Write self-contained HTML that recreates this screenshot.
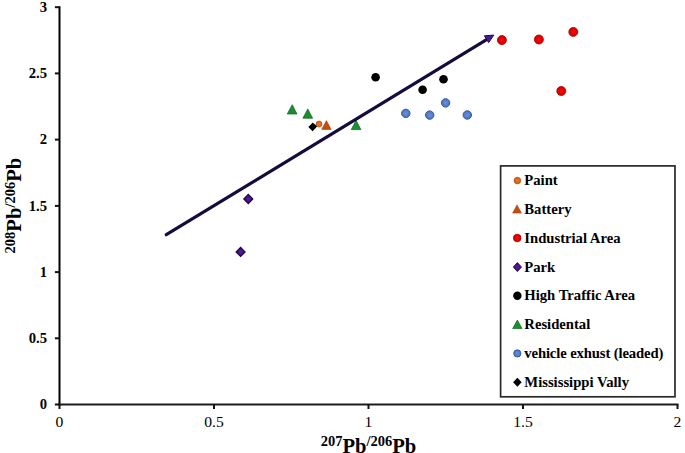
<!DOCTYPE html>
<html><head><meta charset="utf-8">
<style>
html,body{margin:0;padding:0;background:#fff;}
body{width:685px;height:453px;overflow:hidden;position:relative;}
svg{position:absolute;left:0;top:0;}
text{font-family:"Liberation Serif",serif;}
</style></head>
<body>
<svg width="685" height="453" viewBox="0 0 685 453">
<!-- axes -->
<g stroke="#111" stroke-width="2" fill="none">
<line x1="59.5" y1="6.2" x2="59.5" y2="405.5" stroke="#000"/>
<line x1="58.5" y1="404.5" x2="678.5" y2="404.5" stroke="#1c1c1c"/>
<line x1="54.9" y1="7.2" x2="59.5" y2="7.2"/>
<line x1="54.9" y1="73.4" x2="59.5" y2="73.4"/>
<line x1="54.9" y1="139.6" x2="59.5" y2="139.6"/>
<line x1="54.9" y1="205.9" x2="59.5" y2="205.9"/>
<line x1="54.9" y1="272.1" x2="59.5" y2="272.1"/>
<line x1="54.9" y1="338.3" x2="59.5" y2="338.3"/>
<line x1="54.9" y1="404.5" x2="59.5" y2="404.5"/>
<line x1="59.5" y1="404.5" x2="59.5" y2="409"/>
<line x1="214" y1="404.5" x2="214" y2="409"/>
<line x1="368.5" y1="404.5" x2="368.5" y2="409"/>
<line x1="523" y1="404.5" x2="523" y2="409"/>
<line x1="677.5" y1="404.5" x2="677.5" y2="409"/>
</g>
<!-- y labels -->
<g font-weight="bold" font-size="14.67" text-anchor="end" fill="#000">
<text x="47" y="12">3</text>
<text x="47" y="78.2">2.5</text>
<text x="47" y="144.4">2</text>
<text x="47" y="210.7">1.5</text>
<text x="47" y="276.9">1</text>
<text x="47" y="343.1">0.5</text>
<text x="47" y="409.3">0</text>
</g>
<!-- x labels -->
<g font-size="15.6" text-anchor="middle" fill="#000">
<text x="59.5" y="426.5">0</text>
<text x="214" y="426.5">0.5</text>
<text x="368.5" y="426.5">1</text>
<text x="523" y="426.5">1.5</text>
<text x="677.5" y="426.5">2</text>
</g>
<!-- axis titles -->
<text x="368.5" y="452.5" text-anchor="middle" font-weight="bold" font-size="20.6" fill="#000"><tspan font-size="14.5" dy="-6.2">207</tspan><tspan dy="6.2">Pb</tspan><tspan font-size="14.5" dy="-6.2">/206</tspan><tspan dy="6.2">Pb</tspan></text>
<text transform="translate(21.1,205.6) rotate(-90)" text-anchor="middle" font-weight="bold" font-size="20.6" fill="#000"><tspan font-size="14.5" dy="-6.2">208</tspan><tspan dy="6.2">Pb</tspan><tspan font-size="14.5" dy="-6.2">/206</tspan><tspan dy="6.2">Pb</tspan></text>

<!-- data -->
<defs>
<radialGradient id="gRed"><stop offset="0" stop-color="#ff0a0a"/><stop offset="0.6" stop-color="#e80000"/><stop offset="1" stop-color="#c00000"/></radialGradient>
<radialGradient id="gOr"><stop offset="0" stop-color="#e8782a"/><stop offset="1" stop-color="#d0601a"/></radialGradient>
<radialGradient id="gBl"><stop offset="0" stop-color="#6a90d8"/><stop offset="1" stop-color="#4a72c0"/></radialGradient>
<radialGradient id="gPu"><stop offset="0" stop-color="#5a1a9e"/><stop offset="1" stop-color="#3c0c78"/></radialGradient>
</defs>
<!-- Paint -->
<circle cx="319" cy="124.1" r="3" fill="url(#gOr)" stroke="#c0520f" stroke-width="0.7"/>
<!-- Battery -->
<polygon points="326.4,120.6 331.2,129.4 321.7,129.4" fill="#c24f0e" stroke="#a8420c" stroke-width="0.6"/>
<!-- Industrial -->
<g fill="url(#gRed)" stroke="#a80000" stroke-width="0.8">
<circle cx="501.9" cy="40.1" r="4.5"/>
<circle cx="538.9" cy="39.5" r="4.5"/>
<circle cx="573.3" cy="31.9" r="4.5"/>
<circle cx="561.3" cy="91" r="4.5"/>
</g>
<!-- Park -->
<g fill="url(#gPu)" stroke="#1c0640" stroke-width="1.2">
<polygon points="248.3,194.4 252.8,199 248.3,203.7 243.8,199"/>
<polygon points="240.6,247.3 245.1,251.9 240.6,256.5 236.1,251.9"/>
</g>
<!-- High traffic -->
<g fill="#000">
<circle cx="375.6" cy="77.3" r="4.3"/>
<circle cx="422.6" cy="89.8" r="4.3"/>
<circle cx="443.5" cy="79.3" r="4.3"/>
</g>
<!-- Residental -->
<g fill="#18902f" stroke="#0a5e1e" stroke-width="0.7">
<polygon points="292.2,104.7 297,114 287.3,114"/>
<polygon points="307.8,108.9 312.6,118.2 302.9,118.2"/>
<polygon points="356.1,120.4 360.9,129.6 351.3,129.6"/>
</g>
<!-- vehicle exhaust -->
<g fill="url(#gBl)" stroke="#2f56a0" stroke-width="1">
<circle cx="405.8" cy="113.4" r="4.2"/>
<circle cx="429.7" cy="115.1" r="4.2"/>
<circle cx="445.6" cy="102.9" r="4.2"/>
<circle cx="467.3" cy="115" r="4.2"/>
</g>
<!-- Mississippi -->
<polygon points="312.8,122.4 317.1,126.4 312.6,131.2 308.3,127.1" fill="#000"/>

<!-- trend arrow -->
<line x1="166.3" y1="234.7" x2="487" y2="39.4" stroke="#160a3e" stroke-width="3.2" stroke-linecap="round"/>
<polygon points="493.8,35.1 484.4,35.8 488.7,42.6" fill="#4a169c" stroke="#1e0a4a" stroke-width="1"/>

<!-- legend -->
<rect x="500.6" y="165.9" width="174.4" height="230.9" fill="#fff" stroke="#2a2a2a" stroke-width="1.7"/>
<g font-weight="bold" font-size="14.67" fill="#000">
<text x="524.3" y="185">Paint</text>
<text x="524.3" y="213.8">Battery</text>
<text x="524.3" y="242.6">Industrial Area</text>
<text x="524.3" y="271.5">Park</text>
<text x="524.3" y="300.4">High Traffic Area</text>
<text x="524.3" y="329.3">Residental</text>
<text x="524.3" y="358.2" letter-spacing="-0.12">vehicle exhust (leaded)</text>
<text x="524.3" y="387">Mississippi Vally</text>
</g>
<circle cx="517.4" cy="180.6" r="3.3" fill="url(#gOr)" stroke="#b9500f" stroke-width="0.8"/>
<polygon points="517,204.9 521.4,213.1 512.6,213.1" fill="#c24f0e" stroke="#a8420c" stroke-width="0.6"/>
<circle cx="517.2" cy="238" r="3.8" fill="url(#gRed)" stroke="#a80000" stroke-width="0.8"/>
<polygon points="517.4,262.6 521.5,267.1 517.4,271.6 513.3,267.1" fill="url(#gPu)" stroke="#260850" stroke-width="0.9"/>
<circle cx="517.35" cy="295.7" r="4.2" fill="#000"/>
<polygon points="517.35,320.1 522,328.6 512.7,328.6" fill="#18902f" stroke="#0a5e1e" stroke-width="0.7"/>
<circle cx="517.3" cy="353.4" r="3.6" fill="url(#gBl)" stroke="#2f56a0" stroke-width="0.9"/>
<polygon points="517.4,377.8 521.7,382.3 517.4,386.8 513.1,382.3" fill="#000"/>
</svg>
</body></html>
